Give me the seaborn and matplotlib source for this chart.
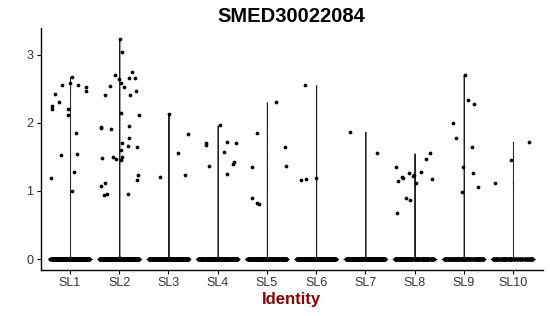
import numpy as np
import pandas as pd
import matplotlib
matplotlib.use("Agg")
import matplotlib.pyplot as plt
import seaborn as sns

idents = ["SL1", "SL2", "SL3", "SL4", "SL5", "SL6", "SL7", "SL8", "SL9", "SL10"]

# non-zero expression values per identity
sl1 = [2.67, 2.55, 2.55, 2.58, 2.52, 2.46, 2.42, 2.31, 2.24, 2.20, 2.20, 2.12,
       1.85, 1.53, 1.54, 1.28, 1.19, 1.00]
sl2 = [3.23, 3.04, 2.74, 2.64, 2.66, 2.70, 2.66, 2.59, 2.52, 2.54, 2.47, 2.40,
       2.40, 2.15, 2.11, 1.93, 1.91, 1.95, 1.94, 1.78, 1.70, 1.66, 1.60, 1.64,
       1.50, 1.50, 1.48, 1.45, 1.47, 1.23, 1.16, 1.12, 1.07, 0.94, 0.95, 0.96]
sl3 = [2.13, 1.84, 1.55, 1.20, 1.24]
sl4 = [1.96, 1.72, 1.70, 1.57, 1.43, 1.25, 1.39, 1.70, 1.36, 1.68]
sl5 = [2.30, 1.85, 1.65, 1.36, 1.35, 0.83, 0.89, 0.81]
sl6 = [2.55, 1.17, 1.19, 1.16]
sl7 = [1.87, 1.55]
sl8 = [1.55, 1.47, 1.35, 1.21, 1.23, 1.12, 1.22, 1.26, 1.15, 1.19, 1.17, 1.28,
       0.87, 0.89, 0.68]
sl9 = [2.70, 2.28, 2.34, 2.00, 1.78, 1.64, 1.35, 1.26, 1.06, 0.99]
sl10 = [1.72, 1.45, 1.11]
nonzero = [sl1, sl2, sl3, sl4, sl5, sl6, sl7, sl8, sl9, sl10]

# number of cells with zero expression per identity (estimated)
zero_counts = [300, 300, 300, 250, 250, 300, 300, 200, 150, 120]

rows_ident = []
rows_val = []
for name, vals, nz in zip(idents, nonzero, zero_counts):
    allv = list(vals) + [0.0] * nz
    rows_ident += [name] * len(allv)
    rows_val += allv
df = pd.DataFrame({"ident": pd.Categorical(rows_ident, categories=idents),
                   "value": rows_val})

sns.set_theme(style="ticks")
plt.rcParams["font.family"] = ["Liberation Sans", "DejaVu Sans"]

fig = plt.figure(figsize=(5.5, 3.16), dpi=100)
ax = fig.add_axes([40.5 / 550, 46 / 316, 502 / 550, 242 / 316])

sns.violinplot(data=df, x="ident", y="value", ax=ax, cut=0,
               density_norm="width", width=0.9, inner=None, bw_method=0.02,
               color="white", linecolor="#222222", linewidth=0.7, fill=True)
np.random.seed(3)
sns.stripplot(data=df, x="ident", y="value", ax=ax, jitter=0.4, size=2.7,
              color="black", linewidth=0)

ax.set_xlim(-0.6, 9.6)
ax.set_ylim(-0.16, 3.39)
ax.set_yticks([0, 1, 2, 3])
ax.set_xlabel("Identity", fontsize=12, fontweight="bold", color="#8B0000",
              labelpad=2)
ax.set_ylabel("")
ax.set_title("SMED30022084", fontsize=14.5, fontweight="bold", pad=4,
             color="black")
for s in ["top", "right"]:
    ax.spines[s].set_visible(False)
for s in ["left", "bottom"]:
    ax.spines[s].set_linewidth(1.0)
    ax.spines[s].set_color("black")
ax.tick_params(axis="both", labelsize=9, colors="#333333", length=3,
               width=0.8, pad=2)
ax.tick_params(axis="both", color="black")
ax.grid(False)

fig.savefig("out.png", dpi=100)
